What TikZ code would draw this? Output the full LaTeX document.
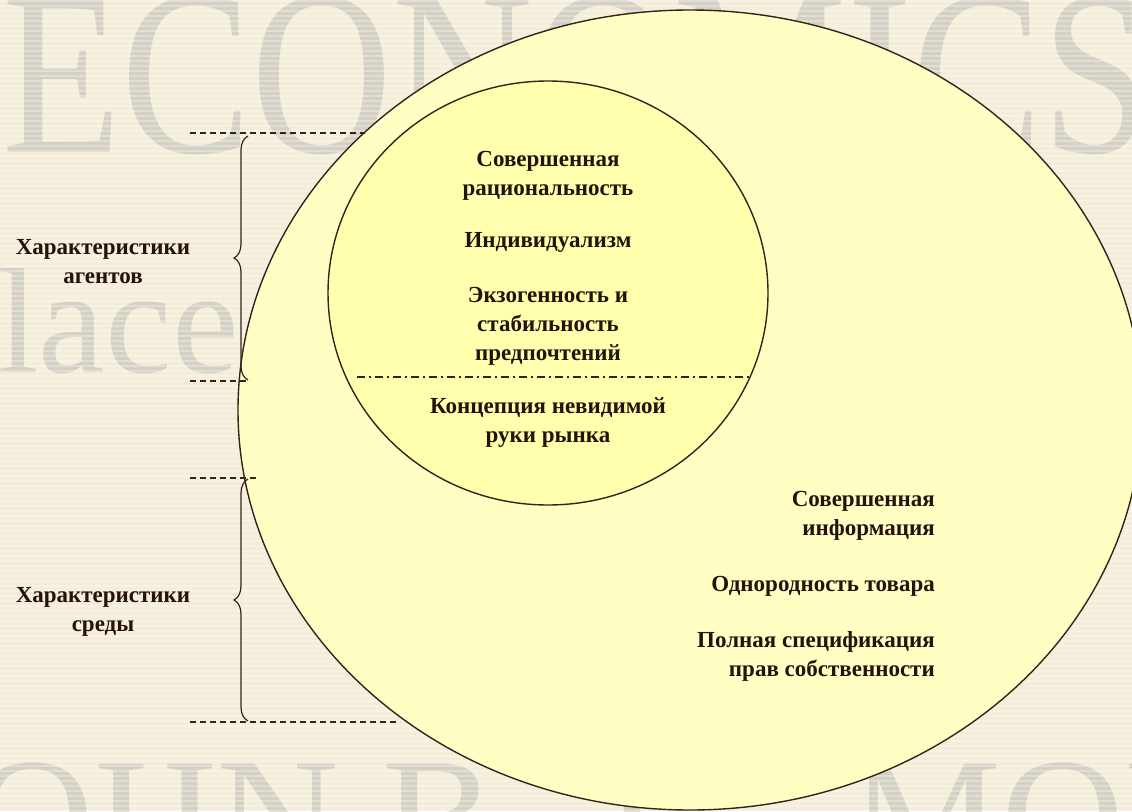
\documentclass[tikz,border=0pt]{standalone}
\usepackage{fontspec}
\setmainfont{Liberation Serif}
\usetikzlibrary{decorations.pathreplacing,shapes.geometric}
\definecolor{bgc}{HTML}{F4EDD9}
\definecolor{wmc}{HTML}{D3D0C4}
\definecolor{outerc}{HTML}{FFFFC4}
\definecolor{innerc}{HTML}{FFFFAE}
\definecolor{lc}{HTML}{35231B}
\definecolor{tc}{HTML}{24120B}
\begin{document}
\begin{tikzpicture}[x=1pt,y=-1pt,
  wm/.style={text=wmc, inner sep=0pt},
  txt/.style={font=\fontsize{23}{29}\selectfont\bfseries, text=tc, align=center, inner sep=0pt},
  rtxt/.style={txt, align=right, anchor=east},
  guide/.style={draw=lc, line width=1.3pt, dash pattern=on 6pt off 4pt},
  bracel/.style={draw=lc, line width=1.2pt, decorate, decoration={brace, amplitude=14pt}},
  blob/.style={ellipse, draw=lc, line width=1.4pt, inner sep=0pt}]
\useasboundingbox (0,0) rectangle (1132,811);
\begin{scope}
  \clip (0,0) rectangle (1132,811);
  \fill[bgc] (0,0) rectangle (1132,811);
  \node[wm, anchor=base west, xscale=0.83, font=\fontsize{235}{235}\selectfont] (wm1) at (2,152) {ECONOMICS};
  \node[wm, anchor=base west, font=\fontsize{150}{150}\selectfont] (wm2) at (-78,372) {place i};
  \node[wm, anchor=base west, font=\fontsize{170}{170}\selectfont] (wm3) at (-95,875) {JOHN B. T};
  \node[wm, anchor=base west, font=\fontsize{170}{170}\selectfont] (wm4) at (850,875) {MON};
  \foreach \yy in {0,5,...,810} \fill[white, opacity=0.3] (0,\yy) rectangle (1132,\yy+2);
\end{scope}
% circles
\node[blob, fill=outerc, minimum width=904pt, minimum height=800pt] (outer) at (690,410) {};
\node[blob, fill=innerc, minimum width=440pt, minimum height=424pt] (inner) at (548,293) {};
\coordinate (dl) at (357,377);
\coordinate (dr) at (750,377);
\draw[lc, line width=1.2pt, dash pattern=on 8pt off 4pt on 2pt off 4pt] (dl) -- (dr);
% inner texts
\node[txt] (i1) at (548,176) {Совершенная\\рациональность};
\node[txt] (i2) at (548,242) {Индивидуализм};
\node[txt] (i3) at (548,326) {Экзогенность и\\стабильность\\предпочтений};
\node[txt] (i4) at (548,423) {Концепция невидимой\\руки рынка};
% outer texts
\node[rtxt] (o1) at (935,516) {Совершенная\\информация};
\node[rtxt] (o2) at (935,586) {Однородность товара};
\node[rtxt] (o3) at (935,656) {Полная спецификация\\прав собственности};
% left labels
\node[txt] (l1) at (103,262) {Характеристики\\агентов};
\node[txt] (l2) at (103,612) {Характеристики\\среды};
% guides
\coordinate (g1a) at (190,133); \coordinate (g1b) at (365,133);
\coordinate (g2a) at (190,381); \coordinate (g2b) at (250,381);
\coordinate (g3a) at (190,478); \coordinate (g3b) at (258,478);
\coordinate (g4a) at (190,722); \coordinate (g4b) at (400,722);
\draw[guide] (g1a) -- (g1b);
\draw[guide] (g2a) -- (g2b);
\draw[guide] (g3a) -- (g3b);
\draw[guide] (g4a) -- (g4b);
% braces
\coordinate (b1a) at (248,380); \coordinate (b1b) at (248,136);
\coordinate (b2a) at (248,721); \coordinate (b2b) at (248,479);
\draw[bracel] (b1a) -- (b1b);
\draw[bracel] (b2a) -- (b2b);
\end{tikzpicture}
\end{document}
